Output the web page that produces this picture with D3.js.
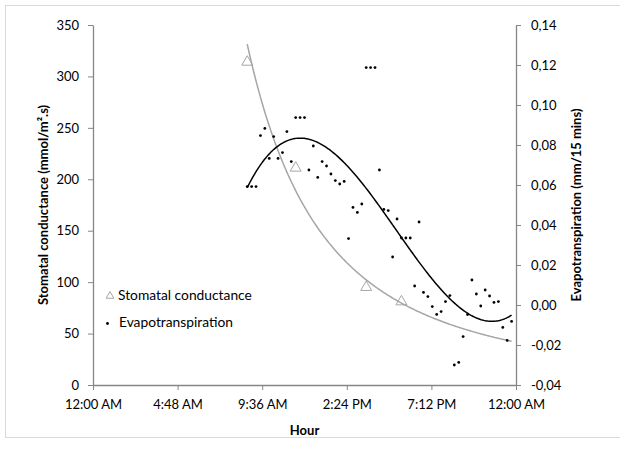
<!DOCTYPE html>
<html>
<head>
<meta charset="utf-8">
<script src="https://cdn.jsdelivr.net/npm/d3@7"></script>
<style>
  body { margin: 0; background: #fff; }
  text { font-family: Lato, "Open Sans", sans-serif; }
</style>
</head>
<body>
<div id="chart"></div>
<script>
// stomatal conductance (left axis)
var stomataTimes = ["8:45", "11:30", "15:30", "17:30"];
var stomataValues = [314, 211, 95, 81];
var stomataTrendEnd = "23:45";   // trendline forecast shown up to here

// evapotranspiration every 15 mins (right axis)
var evapTimes = ["8:45", "9:00", "9:15", "9:30", "9:45", "10:00", "10:15", "10:30", "10:45",
  "11:00", "11:15", "11:30", "11:45", "12:00", "12:15", "12:30", "12:45",
  "13:00", "13:15", "13:30", "13:45", "14:00", "14:15", "14:30", "14:45",
  "15:00", "15:15", "15:30", "15:45", "16:00", "16:15", "16:30", "16:45",
  "17:00", "17:15", "17:30", "17:45", "18:00", "18:15", "18:30", "18:45",
  "19:00", "19:15", "19:30", "19:45", "20:00", "20:15", "20:30", "20:45",
  "21:00", "21:15", "21:30", "21:45", "22:00", "22:15", "22:30", "22:45",
  "23:00", "23:15", "23:30", "23:45"];
var evapValues = [0.0592, 0.0592, 0.0592, 0.0847, 0.0883, 0.0733, 0.0842, 0.0733, 0.0762,
  0.0867, 0.0717, 0.0937, 0.0937, 0.0937, 0.0675, 0.0795, 0.0638,
  0.0717, 0.0695, 0.0655, 0.0622, 0.0605, 0.0618, 0.0332, 0.0488,
  0.0463, 0.0505, 0.1187, 0.1187, 0.1187, 0.0675, 0.0478, 0.0472,
  0.0240, 0.0430, 0.0335, 0.0335, 0.0335, 0.0095, 0.0415, 0.0063,
  0.0042, -0.0008, -0.0047, -0.0033, 0.0017, 0.0047, -0.0300, -0.0287,
  -0.0158, -0.0048, 0.0125, 0.0055, -0.0005, 0.0075, 0.0045, 0.0013,
  0.0017, -0.0112, -0.0177, -0.0082];

var xTickTimes = ["0:00", "4:48", "9:36", "14:24", "19:12", "24:00"];
var leftTicks = [0, 50, 100, 150, 200, 250, 300, 350];
var rightTicks = [-0.04, -0.02, 0, 0.02, 0.04, 0.06, 0.08, 0.10, 0.12, 0.14];

var width = 620;
var height = 450;

function toDate(s) {
  var p = s.split(":");
  return new Date(2000, 0, 1, +p[0], +p[1]);
}
function toHours(s) {
  var p = s.split(":");
  return +p[0] + p[1] / 60;
}
function hoursToDate(h) {
  return new Date(new Date(2000, 0, 1).getTime() + h * 3600000);
}

// Excel style power trendline: ln y = ln a + b ln x
function powerFit(xs, ys) {
  var lx = xs.map(Math.log), ly = ys.map(Math.log);
  var mx = d3.mean(lx), my = d3.mean(ly);
  var sxy = d3.sum(lx, function(v, i) { return (v - mx) * (ly[i] - my); });
  var sxx = d3.sum(lx, function(v) { return (v - mx) * (v - mx); });
  var b = sxy / sxx;
  var a = my - b * mx;
  return function(x) { return Math.exp(a + b * Math.log(x)); };
}

// least squares polynomial
function polyFit(xs, ys, deg) {
  var xm = d3.mean(xs);
  var n = deg + 1;
  var A = [], B = [];
  for (var i = 0; i < n; i++) {
    A[i] = [];
    for (var j = 0; j < n; j++) {
      A[i][j] = d3.sum(xs, function(x) { return Math.pow(x - xm, i + j); });
    }
    B[i] = d3.sum(xs, function(x, k) { return Math.pow(x - xm, i) * ys[k]; });
  }
  for (var c = 0; c < n; c++) {
    for (var r = c + 1; r < n; r++) {
      var f = A[r][c] / A[c][c];
      for (var k = c; k < n; k++) A[r][k] -= f * A[c][k];
      B[r] -= f * B[c];
    }
  }
  var coef = [];
  for (var r2 = n - 1; r2 >= 0; r2--) {
    var s = B[r2];
    for (var k2 = r2 + 1; k2 < n; k2++) s -= A[r2][k2] * coef[k2];
    coef[r2] = s / A[r2][r2];
  }
  return function(x) {
    var v = 0;
    for (var i = 0; i < n; i++) v += coef[i] * Math.pow(x - xm, i);
    return v;
  };
}

var locale = d3.formatLocale({decimal: ",", thousands: ".", grouping: [3], currency: ["", ""], minus: "-"});

var svg = d3.select("#chart").append("svg")
  .attr("width", width)
  .attr("height", height);

// chart border
svg.append("rect")
  .attr("x", 5.5).attr("y", 5.5)
  .attr("width", 640).attr("height", 432)
  .attr("fill", "none")
  .attr("stroke", "#d9d9d9");

var x = d3.scaleTime().domain([toDate("0:00"), toDate("24:00")]).range([93, 516]);
var yL = d3.scaleLinear().domain([0, 350]).range([385, 25]);
var yR = d3.scaleLinear().domain([-0.04, 0.14]).range([385, 25]);

function styleAxis(g) {
  g.attr("font-size", 13).attr("font-family", "Lato, sans-serif");
  g.select(".domain").attr("stroke", "#868686").attr("stroke-width", 1.3);
  g.selectAll(".tick line").attr("stroke", "#868686");
  g.selectAll(".tick text").attr("fill", "#000");
}

svg.append("g")
  .attr("transform", "translate(0,385)")
  .call(d3.axisBottom(x)
    .tickValues(xTickTimes.map(toDate))
    .tickFormat(d3.timeFormat("%-I:%M %p"))
    .tickSize(5).tickSizeOuter(0).tickPadding(10))
  .call(styleAxis);

svg.append("g")
  .attr("transform", "translate(93,0)")
  .call(d3.axisLeft(yL).tickValues(leftTicks).tickSize(5).tickSizeOuter(0).tickPadding(9))
  .call(styleAxis);

svg.append("g")
  .attr("transform", "translate(516,0)")
  .call(d3.axisRight(yR).tickValues(rightTicks)
    .tickFormat(locale.format(".2f"))
    .tickSize(5).tickSizeOuter(0).tickPadding(10))
  .call(styleAxis);

// trendlines
var stomataHours = stomataTimes.map(toHours);
var evapHours = evapTimes.map(toHours);
var gsFit = powerFit(stomataHours, stomataValues);
var etFit = polyFit(evapHours, evapValues, 3);

function sample(h0, h1, fn) {
  return d3.range(201).map(function(i) {
    var h = h0 + (h1 - h0) * i / 200;
    return {date: hoursToDate(h), v: fn(h)};
  });
}

svg.append("path")
  .datum(sample(stomataHours[0], toHours(stomataTrendEnd), gsFit))
  .attr("fill", "none")
  .attr("stroke", "#a6a6a6")
  .attr("stroke-width", 1.5)
  .attr("d", d3.line().x(function(d) { return x(d.date); }).y(function(d) { return yL(d.v); }));

svg.append("path")
  .datum(sample(evapHours[0], evapHours[evapHours.length - 1], etFit))
  .attr("fill", "none")
  .attr("stroke", "#000")
  .attr("stroke-width", 1.5)
  .attr("d", d3.line().x(function(d) { return x(d.date); }).y(function(d) { return yR(d.v); }));

// evapotranspiration points
svg.append("g").selectAll("circle")
  .data(evapTimes)
  .enter()
  .append("circle")
  .attr("cx", function(d) { return x(toDate(d)); })
  .attr("cy", function(d, i) { return yR(evapValues[i]); })
  .attr("r", 1.4)
  .attr("fill", "#000");

// stomatal conductance triangles
var tri = d3.symbol().type(d3.symbolTriangle);
svg.append("g").selectAll("path")
  .data(stomataTimes)
  .enter()
  .append("path")
  .attr("d", tri.size(52)())
  .attr("transform", function(d, i) {
    return "translate(" + x(toDate(d)) + "," + yL(stomataValues[i]) + ")";
  })
  .attr("fill", "none")
  .attr("stroke", "#a6a6a6");

// legend
var legend = svg.append("g").attr("font-size", 13.8);
legend.append("path")
  .attr("d", d3.symbol().type(d3.symbolTriangle).size(26)())
  .attr("transform", "translate(110,296)")
  .attr("fill", "none")
  .attr("stroke", "#a6a6a6");
legend.append("text").attr("x", 118).attr("y", 300).text("Stomatal conductance");
legend.append("circle").attr("cx", 107.5).attr("cy", 323.5).attr("r", 1.4).attr("fill", "#000");
legend.append("text").attr("x", 119).attr("y", 327).text("Evapotranspiration");

// axis titles
svg.append("text")
  .attr("transform", "translate(43,205) rotate(-90)")
  .attr("text-anchor", "middle")
  .attr("dy", "0.35em")
  .attr("font-size", 13)
  .attr("font-weight", "bold")
  .text("Stomatal conductance (mmol/m\u00b2.s)");

svg.append("text")
  .attr("transform", "translate(576,205) rotate(-90)")
  .attr("text-anchor", "middle")
  .attr("dy", "0.35em")
  .attr("font-size", 13)
  .attr("font-weight", "bold")
  .text("Evapotranspiration (mm/15 mins)");

svg.append("text")
  .attr("x", 304.5)
  .attr("y", 435)
  .attr("text-anchor", "middle")
  .attr("font-size", 13)
  .attr("font-weight", "bold")
  .text("Hour");
</script>
</body>
</html>
